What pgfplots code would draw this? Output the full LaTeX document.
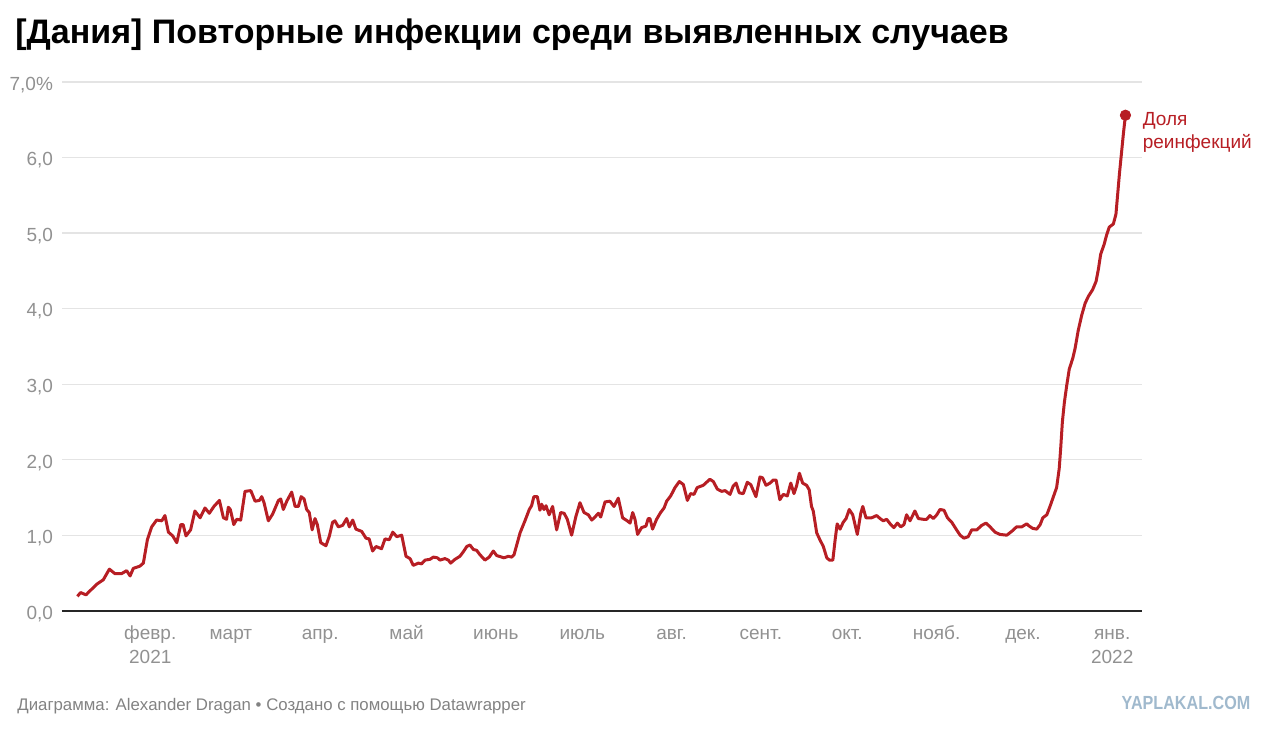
\documentclass[border=0pt]{standalone}
\usepackage{fontspec}
\setmainfont{Liberation Sans}
\usepackage{pgfplots}
\pgfplotsset{compat=1.18}
\definecolor{linered}{RGB}{183,30,36}
\definecolor{ticklab}{RGB}{145,145,145}
\definecolor{gridc}{RGB}{228,228,228}
\definecolor{wm}{RGB}{160,185,205}
\definecolor{foot}{RGB}{130,130,130}
\begin{document}
\begin{tikzpicture}[x=1pt,y=1pt]
\path[use as bounding box] (0,0) rectangle (640,366.5);
\node[anchor=west,inner sep=0,font=\fontsize{17}{20}\selectfont\bfseries] at (7.5,349) {[Дания] Повторные инфекции среди выявленных случаев};
\begin{axis}[at={(31pt,61.15pt)}, anchor=south west, scale only axis,
  width=540pt, height=264.35pt,
  xmin=0.35, xmax=375.35, ymin=0, ymax=7,
  axis x line*=bottom, axis y line*=left,
  x axis line style={-, line width=1pt, color=black!85},
  y axis line style={draw=none},
  ytick={0,...,7},
  yticklabels={{0,0},{1,0},{2,0},{3,0},{4,0},{5,0},{6,0},{7,0\%}},
  ymajorgrids, grid style={gridc, line width=0.6pt},
  major tick length=0,
  xtick={31,59,90,120,151,181,212,243,273,304,334,365},
  xticklabels={{\strut февр.\\2021},\strut март,\strut апр.,\strut май,\strut июнь,\strut июль,\strut авг.,\strut сент.,\strut окт.,\strut нояб.,\strut дек.,{\strut янв.\\2022}},
  xticklabel style={align=center, anchor=north, font=\fontsize{9.5}{12}\selectfont, text=ticklab, yshift=-2.5pt},
  yticklabel style={font=\fontsize{9.5}{12}\selectfont, text=ticklab, xshift=-1pt, yshift=-1.5pt},
  clip=false,
]
\addplot[linered, line width=1.5pt, line join=round] coordinates {
(5.7,0.19)(6.8,0.24)(8.7,0.21)(10,0.26)(12.4,0.35)(14.7,0.41)(16.8,0.55)(18.75,0.49)
(21,0.49)(22.8,0.53)(24,0.46)(25.1,0.56)(27.4,0.59)(28.6,0.63)(30,0.94)(31.5,1.11)
(33.2,1.20)(35,1.19)(36.1,1.26)(37.3,1.04)(38.8,0.99)(40.2,0.90)(41.6,1.14)(42.4,1.14)
(43.4,0.99)(45,1.07)(46.5,1.32)(48.3,1.23)(50,1.36)(51.5,1.29)(53.1,1.38)(55,1.46)
(56.4,1.23)(57.5,1.21)(58.1,1.37)(58.8,1.34)(60,1.14)(61,1.21)(62.4,1.20)(63.9,1.58)
(65.9,1.59)(67.4,1.45)(68.9,1.46)(69.7,1.51)(70.5,1.43)(72,1.19)(73.5,1.28)(75.5,1.46)
(76.3,1.48)(77.2,1.34)(78.4,1.45)(80.1,1.57)(81.3,1.38)(82.4,1.38)(83.4,1.51)(84.4,1.48)
(85.3,1.34)(86.2,1.30)(87.2,1.07)(88.2,1.22)(89,1.14)(90.2,0.90)(92,0.86)(93.2,0.99)
(94.3,1.17)(95.1,1.19)(96.3,1.11)(97.8,1.13)(99.2,1.22)(100.1,1.11)(101.3,1.20)(102.4,1.08)
(104.4,1.05)(105.9,0.96)(107,0.95)(108.2,0.79)(109.4,0.85)(111.3,0.82)(112.5,0.95)(114,0.94)
(115.2,1.04)(116.6,0.98)(118.3,1.00)(119.8,0.72)(121.2,0.69)(122.3,0.60)(124.1,0.63)(125.2,0.62)
(126.4,0.67)(128.1,0.68)(129.3,0.71)(130.7,0.70)(131.6,0.67)(133.3,0.69)(134.5,0.67)(135.3,0.63)
(136.8,0.68)(138.5,0.72)(139.7,0.78)(140.9,0.85)(142,0.87)(143.2,0.81)(144.3,0.80)(145.5,0.74)
(147.2,0.67)(148.7,0.71)(150.1,0.79)(151.3,0.73)(153,0.71)(153.8,0.70)(155.3,0.72)(156.5,0.71)
(157.3,0.74)(159.4,1.03)(161.1,1.19)(162.6,1.34)(163.4,1.39)(164.2,1.51)(165.4,1.51)(166.3,1.33)
(166.9,1.41)(167.7,1.34)(168.4,1.39)(169.5,1.27)(170.7,1.38)(172.1,1.07)(173.5,1.30)(174.7,1.29)
(175.8,1.21)(177.3,1.00)(178.8,1.25)(180.2,1.43)(181.6,1.30)(183.1,1.27)(184.3,1.20)(185.4,1.24)
(186.6,1.29)(187.4,1.24)(188.9,1.44)(190.6,1.45)(192,1.38)(193.5,1.49)(195,1.23)(196.6,1.19)
(197.6,1.16)(198.5,1.30)(199.3,1.21)(200.2,1.01)(201.6,1.10)(203.1,1.12)(203.9,1.22)(204.5,1.22)
(205.4,1.08)(206.8,1.21)(208.2,1.30)(209.4,1.36)(210.3,1.45)(211.7,1.52)(213.2,1.63)(214.7,1.71)
(216.1,1.67)(216.7,1.58)(217.5,1.46)(218.6,1.55)(219.8,1.54)(220.9,1.63)(223,1.66)(225.3,1.74)
(226.5,1.71)(227.9,1.61)(229.4,1.58)(230.6,1.59)(232.3,1.54)(233.4,1.65)(234.4,1.69)(235.5,1.56)
(236.9,1.55)(238.3,1.70)(239.5,1.67)(241.3,1.51)(242.7,1.77)(243.6,1.76)(244.8,1.66)(246.2,1.69)
(247.3,1.73)(248.3,1.73)(249.6,1.47)(250.8,1.54)(252.2,1.52)(253.4,1.69)(254.5,1.55)(255.4,1.65)
(256.4,1.82)(257.5,1.69)(258.9,1.66)(259.8,1.60)(260.6,1.38)(261.2,1.32)(262.4,1.03)(263.5,0.94)
(264.7,0.85)(265.9,0.70)(266.8,0.67)(268,0.67)(268.8,0.94)(269.5,1.15)(270.5,1.08)(271.6,1.17)
(272.6,1.22)(273.7,1.34)(274.9,1.27)(276.5,1.01)(277.7,1.29)(278.4,1.38)(279.5,1.23)(281.5,1.23)
(283.2,1.26)(284.4,1.22)(285.5,1.19)(286.7,1.21)(288.1,1.14)(289.2,1.10)(290.4,1.16)(291.6,1.11)
(292.7,1.14)(293.6,1.27)(294.8,1.19)(296.5,1.32)(297.7,1.22)(299.4,1.21)(300.6,1.21)(301.7,1.26)
(302.9,1.22)(304.1,1.27)(305.2,1.34)(306.6,1.33)(307.8,1.23)(309.3,1.17)(310.8,1.08)(312.2,1.00)
(313.5,0.96)(315,0.98)(316.2,1.07)(318,1.07)(319.7,1.13)(321.2,1.16)(322.6,1.11)(324.3,1.04)
(326,1.01)(328.4,1.00)(330.1,1.05)(331.8,1.11)(333.6,1.11)(335.3,1.15)(336.2,1.12)(337.4,1.09)
(338.8,1.08)(340,1.14)(340.9,1.23)(342.3,1.27)(343.4,1.38)(344.5,1.50)(345.7,1.63)(346.6,1.88)
(347.1,2.14)(347.7,2.50)(348.4,2.76)(349.2,2.98)(350.1,3.20)(351.3,3.34)(352.1,3.47)(353.2,3.71)
(354.4,3.91)(355.6,4.07)(356.7,4.16)(358.2,4.25)(359.4,4.36)(360.2,4.52)(361,4.72)(362.2,4.85)
(363.1,4.98)(364,5.08)(365.4,5.12)(366.3,5.25)(366.8,5.47)(367.5,5.78)(368.2,6.05)(368.9,6.32)
(369.6,6.56)
};
\addplot[only marks, mark=*, mark size=2.6pt, linered] coordinates {(369.6,6.56)};
\node[anchor=north west, align=left, text=linered, inner sep=0,
  font=\fontsize{9.5}{11.5}\selectfont, xshift=8.5pt, yshift=1.5pt] at (axis cs:369.6,6.56) {Доля\\реинфекций};
\end{axis}
\node[anchor=west,inner sep=0,text=foot,font=\fontsize{8.4}{10}\selectfont] at (8.5,13.5) {Диаграмма: Alexander Dragan • Создано с помощью Datawrapper};
\node[inner sep=0,text=wm,font=\bfseries\fontsize{9.5}{10}\selectfont] at (593,15) {\scalebox{0.85}[1]{YAPLAKAL.COM}};
\end{tikzpicture}
\end{document}
